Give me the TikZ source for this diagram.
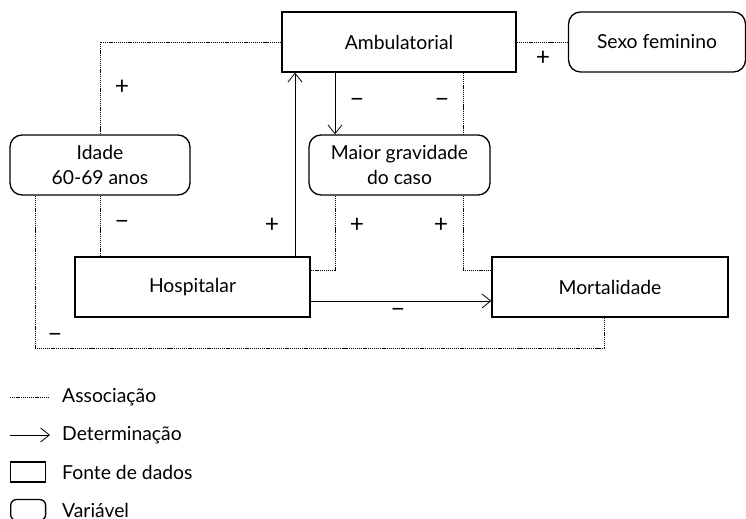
\documentclass[tikz,border=0pt]{standalone}
\usepackage{fontspec}
\setmainfont{Lato}
\usetikzlibrary{arrows.meta}

\tikzset{
    fonte/.style={draw=black, line width=0.75pt, inner sep=0pt, minimum height=1.2cm, align=center},
    variavel/.style={fonte, rounded corners=0.24cm},
    assoc/.style={draw=black, line width=0.5pt, dash pattern=on 0.7pt off 0.5pt},
    determ/.style={draw=black, line width=0.45pt, -{Straight Barb[length=5pt,width=8pt]}},
    sinal/.style={inner sep=0pt, font=\fontsize{14}{14}\selectfont}
}

\begin{document}
\begin{tikzpicture}[x=0.02cm, y=-0.02cm, font=\fontsize{11}{14}\selectfont]
    \useasboundingbox (0,0) rectangle (746,519);

    % caixas
    \node[fonte, minimum width=4.68cm] (amb) at (399,42) {Ambulatorial};
    \node[variavel, minimum width=3.54cm] (sexo) at (657,42) {Sexo feminino};
    \node[variavel, minimum width=3.6cm] (idade) at (100,165) {Idade\\60-69 anos};
    \node[variavel, minimum width=3.62cm] (maior) at (399.5,165) {Maior gravidade\\do caso};
    \node[fonte, minimum width=4.7cm] (hosp) at (192.5,287) {Hospitalar};
    \node[fonte, minimum width=4.72cm] (mort) at (610,287) {Mortalidade};

    % colunas e linhas auxiliares
    \coordinate (k1) at (35,0);
    \coordinate (k3) at (295,0);
    \coordinate (k4) at (335,0);
    \coordinate (k5) at (463,0);
    \coordinate (k6) at (604,0);
    \coordinate (r1) at (0,270);
    \coordinate (r2) at (0,348);
    \coordinate (r3) at (0,301);

    % ligacoes
    \draw[assoc] (amb.west) -| (idade.north);
    \draw[assoc] (amb.east) -- (sexo.west);
    \draw[determ] (amb.south -| k4) -- (maior.north -| k4);
    \draw[assoc] (amb.south -| k5) -- (maior.north -| k5);
    \draw[determ] (hosp.north -| k3) -- (amb.south -| k3);
    \draw[assoc] (maior.south -| k4) |- (r1 -| hosp.east);
    \draw[assoc] (maior.south -| k5) |- (r1 -| mort.west);
    \draw[assoc] (idade.south) -- (hosp.north -| idade.south);
    \draw[assoc] (idade.south -| k1) |- (r2 -| k6) -- (mort.south -| k6);
    \draw[determ] (hosp.east |- r3) -- (mort.west |- r3);

    % sinais
    \node[sinal] (s1) at (122,87) {+};
    \node[sinal] (s2) at (543,58) {+};
    \node[sinal] (s3) at (357,103) {−};
    \node[sinal] (s4) at (442,103) {−};
    \node[sinal] (s5) at (122,225) {−};
    \node[sinal] (s6) at (272,225) {+};
    \node[sinal] (s7) at (357,225) {+};
    \node[sinal] (s8) at (441,225) {+};
    \node[sinal] (s9) at (398,313) {−};
    \node[sinal] (s10) at (55,338) {−};

    % legenda
    \coordinate (la1) at (10,397);
    \coordinate (la2) at (50,397);
    \draw[assoc] (la1) -- (la2);
    \node[anchor=west] (leg1) at (56,397) {Associação};
    \coordinate (lb1) at (10,435);
    \coordinate (lb2) at (50,435);
    \draw[determ] (lb1) -- (lb2);
    \node[anchor=west] (leg2) at (56,435) {Determinação};
    \node[fonte, minimum width=0.7cm, minimum height=0.4cm, anchor=west] (lc) at (10,472) {};
    \node[anchor=west] (leg3) at (56,472) {Fonte de dados};
    \node[fonte, rounded corners=0.12cm, minimum width=0.7cm, minimum height=0.42cm, anchor=west] (ld) at (10,510) {};
    \node[anchor=west] (leg4) at (56,510) {Variável};
\end{tikzpicture}
\end{document}
